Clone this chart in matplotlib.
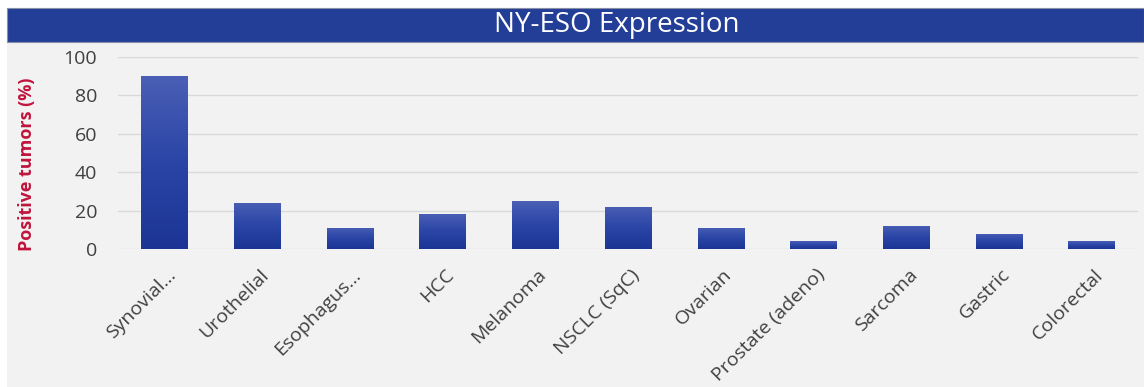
import numpy as np
import matplotlib
matplotlib.use("Agg")
import matplotlib.pyplot as plt
import matplotlib.transforms as mtransforms
from matplotlib.patches import Rectangle
from matplotlib.colors import LinearSegmentedColormap

categories = ["Synovial...", "Urothelial", "Esophagus...", "HCC", "Melanoma",
              "NSCLC (SqC)", "Ovarian", "Prostate (adeno)", "Sarcoma",
              "Gastric", "Colorectal"]
positive_pct = [90, 24, 11, 18, 25, 22, 11, 4, 12, 8, 4]
y_ticks = [0, 20, 40, 60, 80, 100]

plt.rcParams["font.family"] = ["Open Sans", "DejaVu Sans"]

W, H = 1144, 387
fig = plt.figure(figsize=(W / 100, H / 100), dpi=100)
fig.patch.set_facecolor("white")

# light panel behind the chart
fig.patches.append(Rectangle((7 / W, 0), 1 - 7 / W, (H - 42) / H,
                             transform=fig.transFigure, facecolor="#f2f2f2",
                             edgecolor="none", zorder=-2))
# header band
fig.patches.append(Rectangle((7 / W, (H - 42) / H), 1 - 7 / W, 34 / H,
                             transform=fig.transFigure, facecolor="#233e97",
                             edgecolor="#8a8fa8", linewidth=0.8, zorder=-1))
fig.text(617 / W, (H - 25) / H, "NY-ESO Expression", color="white",
         fontsize=20, ha="center", va="center")

ax = fig.add_axes([118 / W, (H - 249) / H, (1138 - 118) / W, (249 - 57) / H])
ax.set_zorder(2)
ax.set_facecolor("none")
x = np.arange(len(categories))
bars = ax.bar(x, positive_pct, width=0.5, color="#1f3a9a", zorder=2)

# vertical shading on each bar
cmap = LinearSegmentedColormap.from_list("barshade", ["#1c3594", "#2a45a6", "#4a5fb5"])
grad = np.linspace(0, 1, 256).reshape(-1, 1)
for b in bars:
    x0, y0 = b.get_x(), b.get_y()
    im = ax.imshow(grad, cmap=cmap, aspect="auto", origin="lower",
                   extent=(x0, x0 + b.get_width(), y0, y0 + b.get_height()),
                   zorder=3)
    im.set_clip_path(b)

ax.set_xlim(-0.5, len(categories) - 0.5)
ax.set_ylim(0, 100)
ax.set_yticks(y_ticks)
ax.set_yticklabels([str(v) for v in y_ticks], fontsize=14, color="#404040")
ax.yaxis.grid(True, color="#d9d9d9", linewidth=1)
ax.set_axisbelow(True)
for s in ax.spines.values():
    s.set_visible(False)
ax.tick_params(axis="both", length=0)
ax.tick_params(axis="y", pad=15)
ax.set_xticks(x)
ax.set_xticklabels(categories, rotation=45, ha="right", rotation_mode="anchor",
                   fontsize=14, color="#404040")
ax.tick_params(axis="x", pad=12)
shift = mtransforms.ScaledTranslation(2 / 100, 0, fig.dpi_scale_trans)
for lbl in ax.get_xticklabels():
    lbl.set_transform(lbl.get_transform() + shift)

fig.text(27 / W, (H - 164) / H, "Positive tumors (%)", rotation=90,
         color="#c0143c", fontsize=13, fontweight="bold",
         ha="center", va="center")

fig.savefig("out.png", dpi=100)
